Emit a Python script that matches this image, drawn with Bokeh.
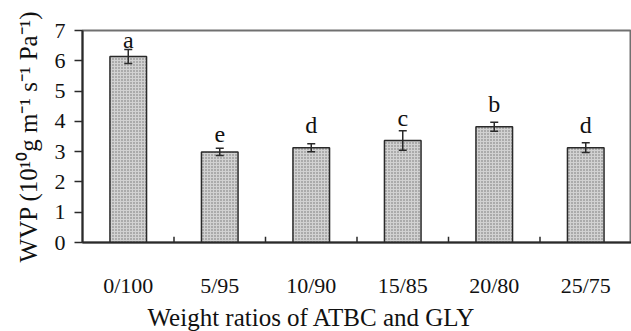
from bokeh.plotting import figure
from bokeh.models import ColumnDataSource, Range1d, FactorRange, FixedTicker, Title
from bokeh.transform import dodge
from bokeh.core.properties import value
from bokeh.embed import file_html
from bokeh.resources import INLINE

categories = ["0/100", "5/95", "10/90", "15/85", "20/80", "25/75"]
wvp = [6.14, 2.99, 3.13, 3.37, 3.82, 3.13]
err = [0.23, 0.12, 0.13, 0.32, 0.15, 0.16]
letters = ["a", "e", "d", "c", "b", "d"]
letter_y = [6.43, 3.50, 3.63, 3.86, 4.31, 3.63]
y_ticks = [0, 1, 2, 3, 4, 5, 6, 7]
x_title = "Weight ratios of ATBC and GLY"
y_title = "WVP (10¹⁰g m⁻¹ s⁻¹ Pa⁻¹)"

FONT = "Liberation Serif"
INK = "#2a2a2a"

src = ColumnDataSource(dict(
    cat=categories, v=wvp,
    lo=[a - b for a, b in zip(wvp, err)],
    hi=[a + b for a, b in zip(wvp, err)],
    lab=letters, ly=letter_y,
))

p = figure(width=631, height=331, x_range=FactorRange(*categories, range_padding=0),
           y_range=Range1d(0, 7), output_backend="svg", toolbar_location=None,
           min_border_left=82, min_border_top=30, min_border_right=0, min_border_bottom=0)

p.vbar(x="cat", top="v", width=0.4, source=src, fill_color="#d2d2d2",
       hatch_pattern="dot", hatch_color="#707070", hatch_scale=3, hatch_weight=1,
       line_color=INK, line_width=1.5)

# error bars
p.segment(x0="cat", y0="lo", x1="cat", y1="hi", source=src, line_color=INK, line_width=1.5)
p.scatter(x="cat", y="hi", marker="dash", size=8, source=src, line_color=INK, line_width=1.5)
p.scatter(x="cat", y="lo", marker="dash", size=8, source=src, line_color=INK, line_width=1.5)

p.text(x="cat", y="ly", text="lab", source=src, text_font=value(FONT),
       text_font_size="24px", text_align="center", text_baseline="bottom",
       y_offset=5, text_color="#111111")

# boundary tick marks between categories (pointing inward)
bsrc = ColumnDataSource(dict(cat=categories[:-1], y0=[0] * 5, y1=[0.19] * 5))
p.segment(x0=dodge("cat", 0.5, range=p.x_range), y0="y0",
          x1=dodge("cat", 0.5, range=p.x_range), y1="y1",
          source=bsrc, line_color=INK, line_width=1.5)

# x axis title (sits left of frame centre in the reference)
p.add_layout(Title(text=x_title, align="left", offset=65, standoff=2,
                   text_font=FONT, text_font_size="25px", text_font_style="normal",
                   text_color="#111111"), "below")

p.grid.visible = False
p.outline_line_color = "#707070"
p.outline_line_width = 2

p.yaxis.ticker = FixedTicker(ticks=y_ticks)
p.yaxis.major_tick_out = 8
p.yaxis.major_tick_in = 0
p.yaxis.minor_tick_line_color = None
p.yaxis.major_label_standoff = 9
p.yaxis.axis_label = y_title
p.yaxis.axis_label_standoff = 10

p.xaxis.major_tick_line_color = None
p.xaxis.major_tick_out = 0
p.xaxis.major_tick_in = 0
p.xaxis.major_label_standoff = 30

for ax in (p.xaxis[0], p.yaxis[0]):
    ax.axis_line_color = INK
    ax.axis_line_width = 2
    ax.major_label_text_font = FONT
    ax.major_label_text_font_size = "22px"
    ax.major_label_text_color = "#111111"
    ax.axis_label_text_font = FONT
    ax.axis_label_text_font_style = "normal"
    ax.axis_label_text_color = "#111111"
p.yaxis.axis_label_text_font_size = "25px"
p.yaxis.major_tick_line_color = INK
p.yaxis.major_tick_line_width = 1.5

open("out.html", "w").write(file_html(p, INLINE))
